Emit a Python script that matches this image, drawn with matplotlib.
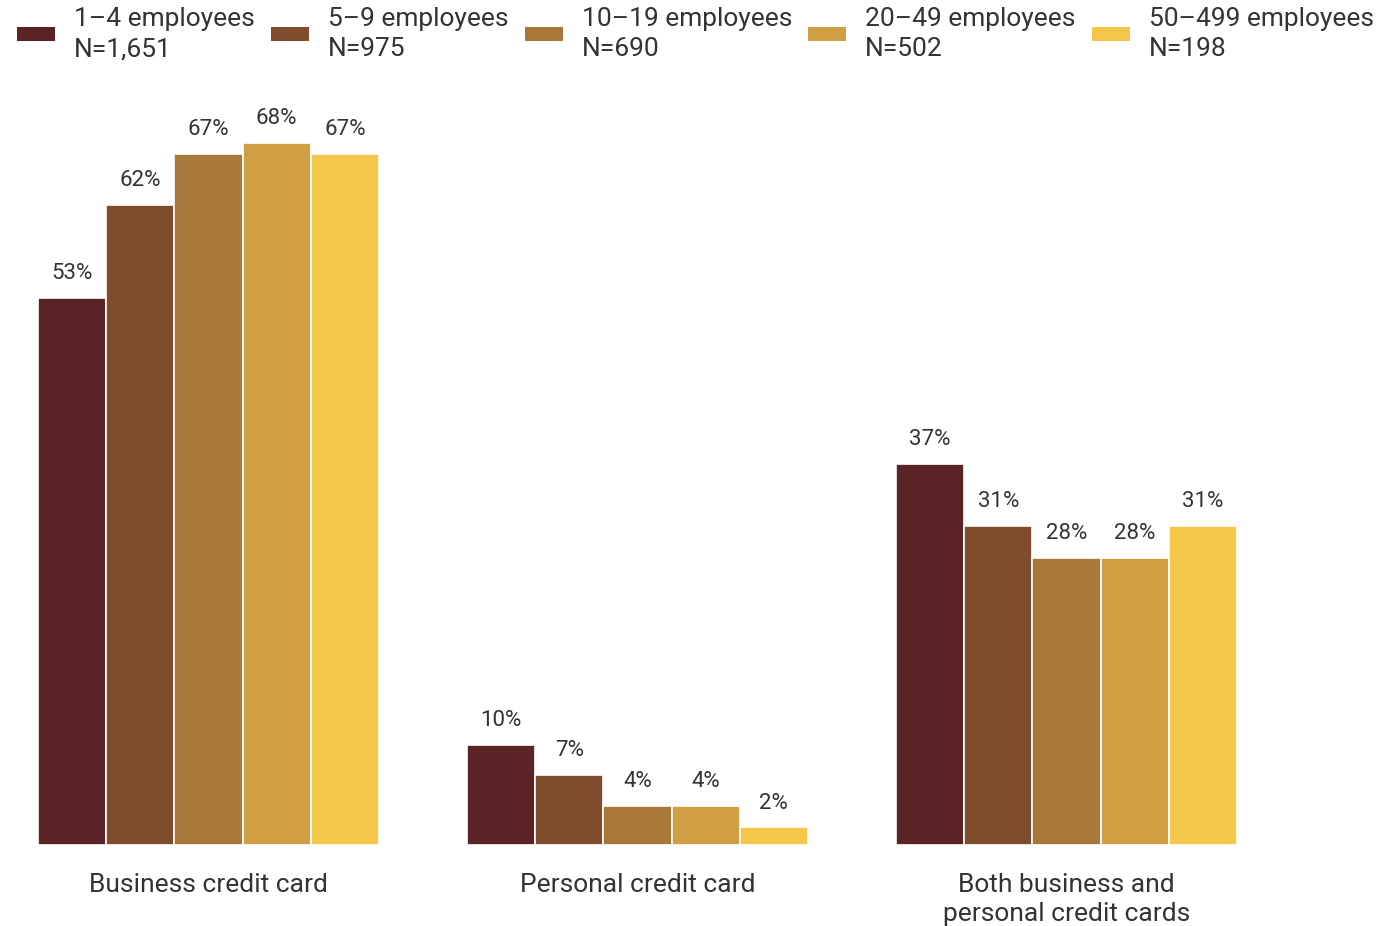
import matplotlib.pyplot as plt
from matplotlib.patches import Patch

# data
categories = ["Business credit card", "Personal credit card",
              "Both business and\npersonal credit cards"]
groups = ["1\u20134 employees\nN=1,651", "5\u20139 employees\nN=975",
          "10\u201319 employees\nN=690", "20\u201349 employees\nN=502",
          "50\u2013499 employees\nN=198"]
emp_1_4 = [53.0, 9.7, 36.9]
emp_5_9 = [62.0, 6.8, 30.9]
emp_10_19 = [67.0, 3.8, 27.8]
emp_20_49 = [68.0, 3.8, 27.8]
emp_50_499 = [67.0, 1.7, 30.9]
series = [emp_1_4, emp_5_9, emp_10_19, emp_20_49, emp_50_499]
colors = ["#5a2326", "#7f4d2e", "#a8773a", "#d09f43", "#f4c74b"]

plt.rcParams['font.family'] = ['Roboto', 'DejaVu Sans']
txt = "#333333"

fig = plt.figure(figsize=(13.83, 9.26), dpi=100)
W, H = 1383, 926
# axes spans full width, baseline at y=845px, top at y=100px
ax = fig.add_axes([0, (H - 845) / H, 1, 745 / H])

bw = 341 / 5 / 429
x = range(len(categories))
for i, (vals, c) in enumerate(zip(series, colors)):
    pos = [k - 2 * bw + i * bw for k in x]
    bars = ax.bar(pos, vals, width=bw, color=c, edgecolor="white", linewidth=1.2)
    ax.bar_label(bars, labels=[f"{v:.0f}%" for v in vals], padding=10,
                 fontsize=16, color=txt)

ax.set_xlim(-208.5 / 429, (W - 208.5) / 429)
ax.set_ylim(0, 745 / 10.32)
ax.set_xticks(list(x))
ax.set_xticklabels(categories, fontsize=19, color=txt, linespacing=1.28)
ax.tick_params(axis='x', length=0, pad=20)
ax.set_yticks([])
for s in ax.spines.values():
    s.set_visible(False)

handles = [Patch(facecolor=c, edgecolor="none") for c in colors]
leg = fig.legend(handles, groups, loc="upper left", bbox_to_anchor=(0.012, 0.992),
                 ncol=5, frameon=False, fontsize=19, handlelength=1.44,
                 handleheight=0.45, handletextpad=0.72, columnspacing=0.62,
                 borderaxespad=0, labelcolor=txt, borderpad=0)
for t in leg.get_texts():
    t.set_linespacing(1.3)

fig.savefig("out.png", dpi=100)
